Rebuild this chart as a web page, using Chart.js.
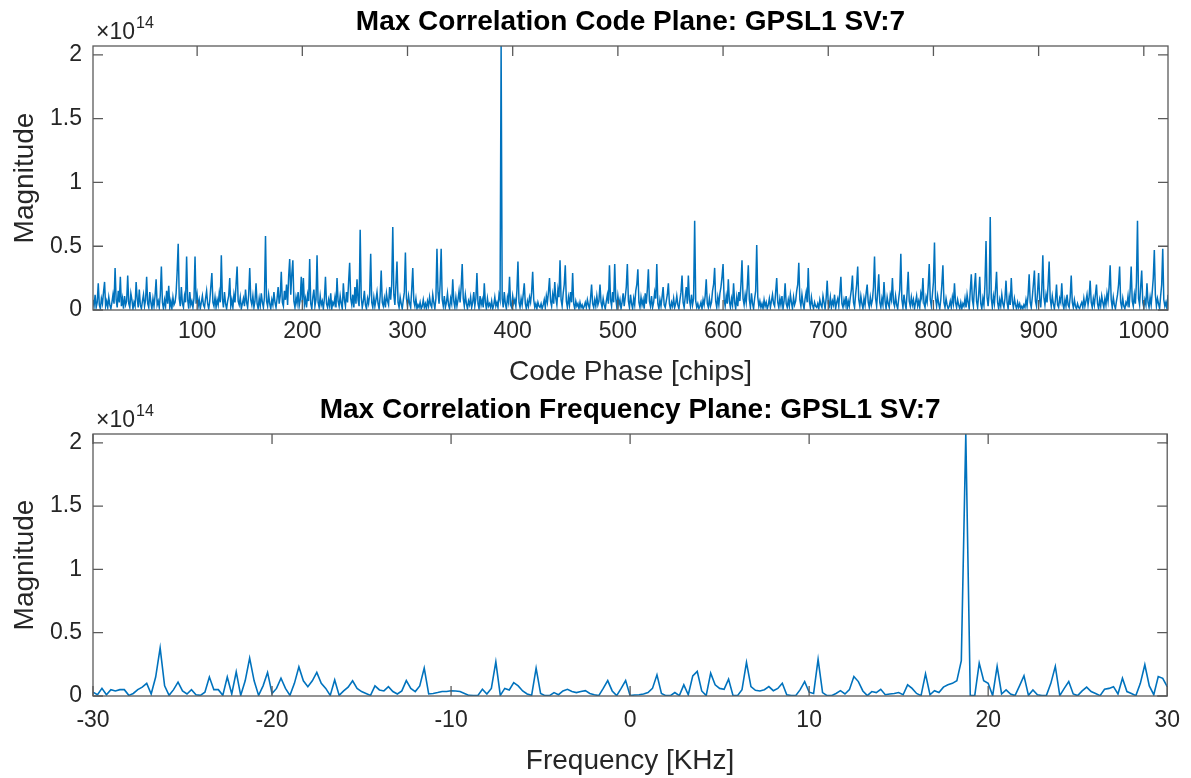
<!DOCTYPE html>
<html>
<head>
<meta charset="utf-8">
<script src="https://cdn.jsdelivr.net/npm/chart.js@4.4.1/dist/chart.umd.min.js"></script>
<style>
    html, body { margin: 0; padding: 0; background: #fff; }
    #wrap { position: relative; width: 1191px; height: 778px; }
    .plot { position: absolute; left: 0; width: 1191px; height: 389px; }
</style>
</head>
<body>
<div id="wrap">
    <div class="plot" style="top:0"><canvas id="codeChart"></canvas></div>
    <div class="plot" style="top:389px"><canvas id="freqChart"></canvas></div>
</div>
<script>
// magnitudes are in units of 1e12 (axis shows x1e14)
const codeMag = [
    8,3,12,2,6,21,4,1,9,5,14,22,3,7,2,10,4,1,6,12,5,33,8,2,15,6,26,3,9,1,11,4,7,27,5,2,13,8,1,6,3,22,9,2,16,4,1,7,12,3,
    8,26,5,2,14,6,1,9,3,11,24,4,7,2,12,34,6,1,8,3,15,5,19,2,7,1,10,4,6,13,30,52,9,3,18,5,2,11,6,42,8,1,14,4,7,2,9,42,5,12,
    3,8,1,6,11,4,2,9,15,5,1,7,18,29,6,3,10,2,8,4,13,6,43,9,2,14,5,1,7,11,25,3,8,2,12,6,20,34,7,4,10,1,5,9,3,16,6,2,12,33,
    8,4,11,2,7,21,5,1,9,3,13,6,2,10,58,7,3,12,5,1,8,4,14,6,2,9,18,5,11,30,6,3,15,8,20,4,26,40,12,28,39,7,2,10,5,14,3,8,26,6,
    25,4,9,2,12,7,40,5,1,10,16,3,8,43,6,2,11,4,7,1,9,26,5,2,8,3,13,1,6,4,10,2,25,7,3,11,5,1,21,8,3,14,6,22,37,9,4,12,2,18,
    5,24,8,3,63,10,2,7,15,4,1,9,5,12,44,6,2,10,3,8,14,5,1,11,31,6,3,9,2,13,7,4,18,8,20,65,12,4,20,38,6,2,10,5,1,8,14,45,9,3,
    11,5,2,16,33,7,3,9,1,4,2,6,1,3,8,2,5,1,7,3,10,4,2,12,6,1,9,48,14,5,20,48,8,3,11,2,6,13,4,1,9,5,24,7,2,10,3,8,15,6,
    18,36,9,3,12,5,1,7,4,10,2,6,14,3,9,29,5,1,11,4,8,2,21,6,1,9,3,5,2,7,1,4,10,3,6,2,12,8,207,9,2,14,5,1,10,6,26,4,2,11,
    5,8,3,15,38,6,2,9,4,12,21,5,1,7,3,10,6,14,30,8,2,5,1,6,3,2,5,1,4,8,2,11,6,14,25,7,3,12,5,22,9,4,16,10,39,8,3,13,20,35,
    7,2,10,4,14,6,29,5,1,7,3,5,1,6,2,4,1,3,6,2,8,4,1,9,20,5,2,8,3,11,4,7,20,6,2,9,4,1,7,12,5,35,8,3,14,6,36,9,2,11,
    4,8,1,6,13,3,10,18,36,7,2,12,5,1,9,4,15,20,32,6,2,10,4,8,1,13,5,16,32,7,3,11,2,6,14,9,36,5,1,8,3,10,18,4,2,7,12,21,5,1,
    6,3,9,2,5,11,4,1,8,14,27,6,2,10,18,5,27,8,3,12,4,9,70,7,2,5,1,3,6,1,8,4,11,24,5,2,9,3,6,15,20,33,7,2,10,4,13,18,26,36,
    8,3,11,5,24,7,2,9,4,21,6,1,10,3,14,7,20,39,9,4,12,6,18,35,8,2,13,5,1,9,15,51,10,3,7,2,5,1,8,3,6,1,4,9,2,7,12,5,3,14,
    25,6,2,9,4,11,1,7,21,5,2,8,3,12,6,1,10,4,7,15,20,37,8,3,12,5,1,9,14,6,33,7,2,10,4,1,6,3,2,5,1,8,4,2,11,6,1,9,23,5,
    3,10,2,7,4,12,1,6,9,3,14,26,5,2,8,4,11,1,7,3,10,16,27,6,2,12,20,34,8,3,11,5,1,9,4,13,20,6,2,10,4,8,18,42,9,3,14,28,6,2,
    9,4,22,7,1,10,5,2,12,8,25,6,3,11,4,1,9,16,44,8,2,12,5,1,14,30,7,3,10,4,8,1,6,11,3,7,2,13,9,25,5,2,10,6,18,36,8,3,12,22,
    53,9,3,11,5,1,8,20,35,6,2,9,4,1,3,7,2,10,5,21,6,2,8,4,1,6,1,5,3,9,2,12,6,1,15,28,8,3,18,29,7,2,12,26,5,1,9,4,20,54,
    10,3,14,73,9,2,11,5,16,30,6,1,8,3,12,5,2,9,23,6,1,10,4,25,7,2,9,4,1,6,2,5,1,3,1,4,2,8,3,12,28,6,2,10,20,31,7,3,14,29,
    8,2,16,43,10,4,12,6,20,38,9,3,11,5,1,8,20,4,2,9,6,21,5,1,8,3,12,4,2,10,27,6,2,8,3,1,5,2,1,4,6,2,9,3,7,12,4,10,23,6,
    2,9,4,12,20,5,1,8,3,11,6,2,9,4,13,7,18,35,8,2,10,4,1,7,12,20,34,6,2,9,3,1,6,4,11,2,15,34,7,3,12,5,22,70,9,4,18,31,6,2,
    8,4,21,6,2,10,4,14,25,47,12,3,9,5,1,11,20,48,8,3,6,1,12
];

// 0.25 kHz bins from -30 to 30 kHz
const freqMag = [
    3,1,6,1,5,4,5,5,0.5,2, 5,7,10,1.6,15,38,8,0.5,5,11, 4,1.6,5,1,0.5,3,15,5,5,0.5,
    15,1.6,19,0.5,12,30,12,0.5,8,18.6, 2,6,14,6,0.5,10,23,12,7.4,12, 18.6,10,6,0.5,12.7,0.5,4,7,12,6,
    3.5,2,0.5,8,4.8,4,7.4,3.5,1.6,4, 12.2,6,3.5,8,22,1.6,2,2.7,3.5,3.5, 4.2,4,3.5,2,0.5,0.3,0.5,5.3,1.6,6,
    27,0.5,6,4.8,10.6,8,4,1.6,0.5,22, 2,0.3,0.3,2.7,1,4,5.3,3.5,2.7,3.5, 4.2,2,1,0.3,6,12.2,4,0.3,6,12.2,
    0.3,0.8,1,1.6,2.7,6,16.7,2,0.3,0.3, 2.7,0.3,8.8,1,15.9,19.4,4,0.3,18,8.8, 6,5.3,13.3,0.3,0.3,5,26.5,7.4,4.5,4,
    5,7.4,4.2,6,10.1,1,0.3,0.3,5,11.4, 3,2,29,2.7,0.3,0.3,2,4.2,1.6,5, 15.4,11.4,4,0.3,3.5,2.7,5.3,1,1.6,2,
    2.7,1,8.8,6,2,0.3,17.5,1,4.2,2.7, 7,8.8,10,12,28,207,0.3,0.3,26,12, 10,0.3,23.4,1.6,4.8,1.5,0.3,8,16,0.5,
    4.8,1,0.3,0.3,10,23.4,0.3,6,11.4,1.6, 0.3,4,7,3.5,2,0.3,5.3,6,7.4,1.6, 14,3.5,2,0.3,10,24.7,8,1,15.4,14,
    7.4
];
const freqStart = -30;
const freqStep = 0.25;

const codeTicks = [100, 200, 300, 400, 500, 600, 700, 800, 900, 1000];
const freqTicks = [-30, -20, -10, 0, 10, 20, 30];
const magTicks = [0, 0.5, 1, 1.5, 2];

const FONT = '"Liberation Sans", Arial, Helvetica, sans-serif';
const BLUE = '#0072BD';

// box, inward ticks, bold title and the x10^14 multiplier, MATLAB style
const matlabAxes = {
    id: 'matlabAxes',
    afterDraw(chart, args, opts) {
        const { ctx, chartArea: a, scales } = chart;
        ctx.save();
        ctx.strokeStyle = '#5a5a5a';
        ctx.lineWidth = 1.3;
        ctx.strokeRect(a.left, a.top, a.right - a.left, a.bottom - a.top);
        ctx.beginPath();
        scales.x.ticks.forEach(t => {
            const px = scales.x.getPixelForValue(t.value);
            ctx.moveTo(px, a.bottom); ctx.lineTo(px, a.bottom - 10);
            ctx.moveTo(px, a.top); ctx.lineTo(px, a.top + 10);
        });
        scales.y.ticks.forEach(t => {
            const py = scales.y.getPixelForValue(t.value);
            ctx.moveTo(a.left, py); ctx.lineTo(a.left + 10, py);
            ctx.moveTo(a.right, py); ctx.lineTo(a.right - 10, py);
        });
        ctx.stroke();

        ctx.fillStyle = '#000';
        ctx.font = 'bold 28px ' + FONT;
        ctx.textAlign = 'center';
        ctx.textBaseline = 'middle';
        ctx.fillText(opts.title, (a.left + a.right) / 2, opts.titleY);

        ctx.fillStyle = '#262626';
        ctx.textAlign = 'left';
        ctx.textBaseline = 'alphabetic';
        ctx.font = '23px ' + FONT;
        const base = a.top - 7;
        ctx.fillText('\u00d710', a.left + 3, base);
        const w = ctx.measureText('\u00d710').width;
        ctx.font = '16px ' + FONT;
        ctx.fillText('14', a.left + 4 + w, base - 11);
        ctx.restore();
    }
};

function makeChart(id, points, xMin, xMax, xTicks, xLabel, title, titleY, areaTop, xAxisHeight, tickPad, lineWidth) {
    return new Chart(document.getElementById(id), {
        type: 'line',
        data: {
            datasets: [{
                data: points,
                borderColor: BLUE,
                borderWidth: lineWidth,
                pointRadius: 0,
                tension: 0,
                fill: false
            }]
        },
        options: {
            responsive: true,
            maintainAspectRatio: false,
            animation: false,
            events: [],
            layout: { padding: { top: areaTop, right: 23, left: 0, bottom: 0 } },
            plugins: {
                legend: { display: false },
                tooltip: { enabled: false },
                matlabAxes: { title: title, titleY: titleY }
            },
            scales: {
                x: {
                    type: 'linear',
                    min: xMin,
                    max: xMax,
                    grid: { display: false, drawTicks: false },
                    border: { display: false },
                    afterBuildTicks: s => { s.ticks = xTicks.map(v => ({ value: v })); },
                    afterFit: s => { s.height = xAxisHeight; },
                    ticks: {
                        autoSkip: false,
                        maxRotation: 0,
                        padding: tickPad,
                        color: '#262626',
                        font: { family: FONT, size: 23 },
                        callback: v => String(v)
                    },
                    title: {
                        display: true,
                        text: xLabel,
                        color: '#262626',
                        font: { family: FONT, size: 28 },
                        padding: { top: 0, bottom: 0 }
                    }
                },
                y: {
                    min: 0,
                    max: 2.07,
                    grid: { display: false, drawTicks: false },
                    border: { display: false },
                    afterBuildTicks: s => { s.ticks = magTicks.map(v => ({ value: v })); },
                    afterFit: s => { s.width = 93; },
                    ticks: {
                        padding: 11,
                        color: '#262626',
                        font: { family: FONT, size: 23 },
                        callback: v => String(v)
                    },
                    title: {
                        display: true,
                        text: 'Magnitude',
                        color: '#262626',
                        font: { family: FONT, size: 28 },
                        padding: { top: 8, bottom: 0 }
                    }
                }
            }
        },
        plugins: [matlabAxes]
    });
}

const codePoints = codeMag.map((v, i) => ({ x: i + 1, y: v / 100 }));
const freqPoints = freqMag.map((v, i) => ({ x: freqStart + i * freqStep, y: v / 100 }));

makeChart('codeChart', codePoints, 1, 1023, codeTicks, 'Code Phase [chips]',
    'Max Correlation Code Plane: GPSL1 SV:7', 22, 46, 79, 8, 1.5);
makeChart('freqChart', freqPoints, -30, 30, freqTicks, 'Frequency [KHz]',
    'Max Correlation Frequency Plane: GPSL1 SV:7', 21, 45, 82, 11, 1.6);
</script>
</body>
</html>
